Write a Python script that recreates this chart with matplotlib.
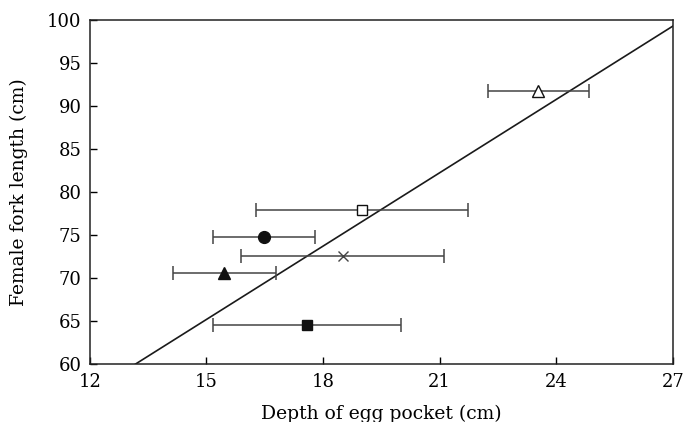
import matplotlib
matplotlib.use("Agg")
import matplotlib.pyplot as plt
import numpy as np

plt.rcParams["font.family"] = ["DejaVu Serif"]

# group means and horizontal error (depth of egg pocket)
depth = [23.53, 19.0, 16.49, 18.5, 15.46, 17.59]
length = [91.7, 77.9, 74.8, 72.6, 70.6, 64.55]
depth_err = [1.3, 2.72, 1.31, 2.6, 1.32, 2.42]
markers = ["^", "s", "o", "x", "^", "s"]
filled = [False, False, True, None, True, True]

# fitted line y = slope * x + intercept
slope = 2.84
intercept = 22.6

fig, ax = plt.subplots(figsize=(6.86, 4.22), dpi=100)
fig.subplots_adjust(left=0.131, right=0.981, top=0.953, bottom=0.137)

xs = np.array([12, 27])
ax.plot(xs, slope * xs + intercept, color="#1a1a1a", lw=1.2, zorder=2)

for x, y, e, m, f in zip(depth, length, depth_err, markers, filled):
    ax.errorbar(x, y, xerr=e, fmt="none", ecolor="#444444", elinewidth=1.1,
                capsize=5, capthick=1.1, zorder=3)
    if m == "x":
        ax.plot(x, y, marker="x", color="#444444", ms=7, mew=1.0, ls="none", zorder=4)
    else:
        ms = 8 if m == "^" else (8.5 if m == "o" else 7)
        ax.plot(x, y, marker=m, ms=ms, ls="none", mew=1.0,
                mfc="#111111" if f else "white", mec="#111111", zorder=4)

ax.set_xlim(12, 27)
ax.set_ylim(60, 100)
ax.set_xticks([12, 15, 18, 21, 24, 27])
ax.set_yticks(range(60, 101, 5))
ax.tick_params(direction="in", length=5, width=1, labelsize=13, pad=6,
               top=False, right=False)
for s in ax.spines.values():
    s.set_linewidth(1.1)
    s.set_color("#222222")

ax.set_xlabel("Depth of egg pocket (cm)", fontsize=13.5, labelpad=10)
ax.set_ylabel("Female fork length (cm)", fontsize=13.5, labelpad=14)

fig.savefig("out.png", dpi=100)
